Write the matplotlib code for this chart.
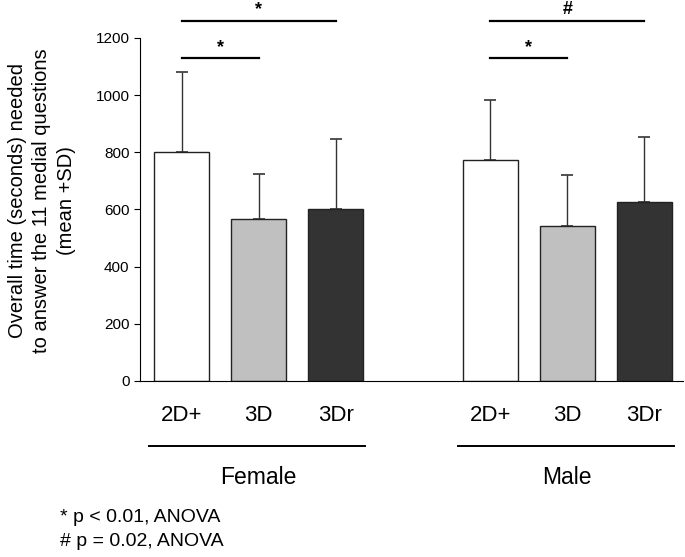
import matplotlib.pyplot as plt

plt.rcParams['font.family'] = ['Liberation Sans', 'DejaVu Sans']

# data
conditions = ['2D+', '3D', '3Dr']
groups = ['Female', 'Male']
female_mean = [800, 568, 603]
female_sd = [280, 156, 243]
male_mean = [773, 543, 627]
male_sd = [210, 178, 227]
colors = ['white', '#c0c0c0', '#333333']

fig = plt.figure(figsize=(6.85, 5.57), dpi=100)
ax = fig.add_axes([0.2044, 0.316, 0.7926, 0.616])

positions = [[0, 1, 2], [4, 5, 6]]
for pos, means, sds in zip(positions, [female_mean, male_mean], [female_sd, male_sd]):
    ax.bar(pos, means, width=0.714, color=colors, edgecolor='#222222', linewidth=1.0, zorder=2)
    ax.errorbar(pos, means, yerr=[[0, 0, 0], sds], fmt='none', ecolor='#333333',
                elinewidth=1.0, capsize=4, capthick=1.2, zorder=1)

ax.set_xlim(-0.54, 6.5)
ax.set_ylim(0, 1200)
ax.set_yticks(range(0, 1201, 200))
ax.tick_params(axis='y', labelsize=11, length=4, direction='out')
ax.set_xticks([p for pos in positions for p in pos])
ax.set_xticklabels(conditions * 2, fontsize=16)
ax.tick_params(axis='x', length=0, pad=17)
ax.spines['top'].set_visible(False)
ax.spines['right'].set_visible(False)

# significance brackets
for pos, top_mark in zip(positions, ['*', '#']):
    ax.plot([pos[0], pos[2]], [1260, 1260], color='black', lw=1.6, clip_on=False)
    ax.text((pos[0] + pos[2]) / 2, 1268, top_mark, ha='center', va='bottom',
            fontsize=13, fontweight='bold', clip_on=False)
    ax.plot([pos[0], pos[1]], [1130, 1130], color='black', lw=1.6, clip_on=False)
    ax.text((pos[0] + pos[1]) / 2, 1138, '*', ha='center', va='bottom',
            fontsize=13, fontweight='bold', clip_on=False)

# group lines and labels
for pos, name in zip(positions, groups):
    ax.plot([pos[0] - 0.42, pos[2] + 0.38], [-228, -228], color='black', lw=1.4, clip_on=False)
    ax.text(pos[1], -337, name, ha='center', va='center', fontsize=16.5)

fig.text(42 / 685, 1 - 201 / 557,
         'Overall time (seconds) needed\nto answer the 11 medial questions\n(mean +SD)',
         rotation=90, ha='center', va='center', multialignment='center',
         fontsize=14.5, linespacing=1.35)

fig.text(60 / 685, 1 - 518 / 557, '* p < 0.01, ANOVA', ha='left', va='center', fontsize=14)
fig.text(60 / 685, 1 - 542 / 557, '# p = 0.02, ANOVA', ha='left', va='center', fontsize=14)

fig.savefig('out.png', dpi=100)
